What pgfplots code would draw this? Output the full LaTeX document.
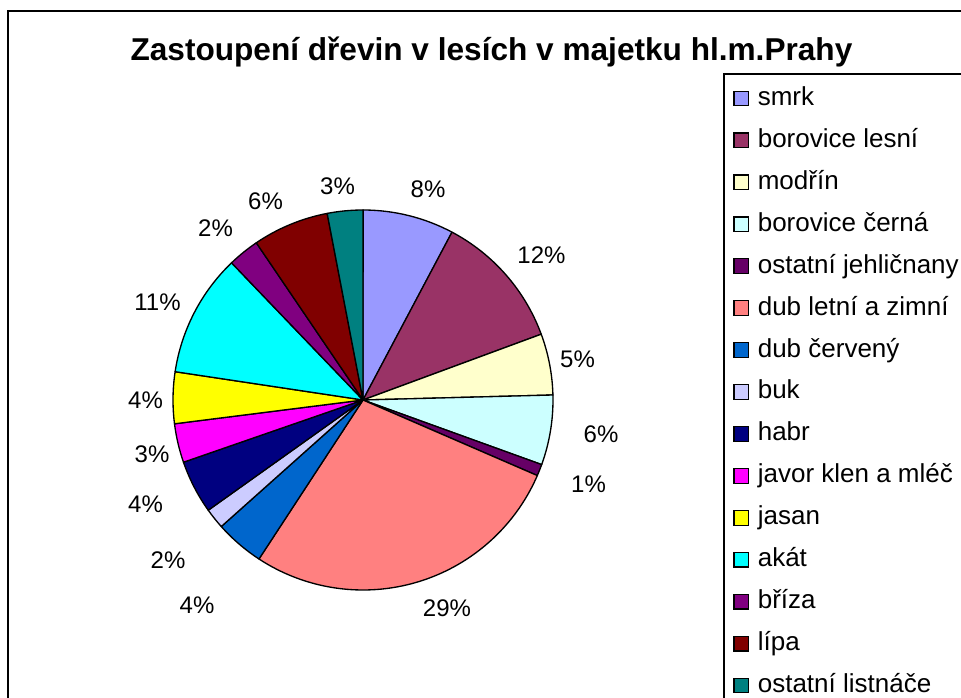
\documentclass[border=0pt]{standalone}
\usepackage{fontspec}
\setmainfont{Liberation Sans}
\usepackage{pgfplots}
\usepackage{pgfplotstable}
\pgfplotsset{compat=1.18}

\definecolor{c0}{HTML}{9999FF}
\definecolor{c1}{HTML}{993366}
\definecolor{c2}{HTML}{FFFFCC}
\definecolor{c3}{HTML}{CCFFFF}
\definecolor{c4}{HTML}{660066}
\definecolor{c5}{HTML}{FF8080}
\definecolor{c6}{HTML}{0066CC}
\definecolor{c7}{HTML}{CCCCFF}
\definecolor{c8}{HTML}{000080}
\definecolor{c9}{HTML}{FF00FF}
\definecolor{c10}{HTML}{FFFF00}
\definecolor{c11}{HTML}{00FFFF}
\definecolor{c12}{HTML}{800080}
\definecolor{c13}{HTML}{800000}
\definecolor{c14}{HTML}{008080}

% share (%), label position (px from left, px from bottom), label value
\pgfplotstableread{
value  lx     ly     lab
7.76   428    508    8
11.61  541.5  442    12
5.21   577.5  338    5
5.94   601    263    6
0.99   588.5  213    1
27.71  447    89     29
4.18   197    92     4
1.75   168    137    2
4.54   145.5  193    4
3.31   152    243    3
4.38   145.5  297    4
10.46  157.5  395    11
2.67   215.5  469    2
6.47   265.5  496    6
3.03   337.5  511    3
}\piedata

\pgfplotsset{
  sq/.style={legend image code/.code={\draw[##1, line width=0.9pt] (0pt,-5.5pt) rectangle (11pt,5.5pt);}},
}

\newcommand\pieacc{0}
\pgfplotsforeachungrouped \pieidx in {0,...,14}{%
  \pgfplotstablegetelem{\pieidx}{value}\of\piedata
  \let\pieval\pgfplotsretval
  \pgfmathsetmacro\piesa{90-3.6*\pieacc}%
  \pgfmathsetmacro\pieacc{\pieacc+\pieval}%
  \pgfmathsetmacro\pieea{90-3.6*\pieacc}%
  \pgfmathsetmacro\piesx{363+190*cos(\piesa)}%
  \pgfmathsetmacro\piesy{297+190*sin(\piesa)}%
  \expandafter\xdef\csname pieS\pieidx\endcsname{\piesa}%
  \expandafter\xdef\csname pieE\pieidx\endcsname{\pieea}%
  \expandafter\xdef\csname pieSX\pieidx\endcsname{\piesx}%
  \expandafter\xdef\csname pieSY\pieidx\endcsname{\piesy}%
  \pgfplotstablegetelem{\pieidx}{lx}\of\piedata
  \expandafter\xdef\csname pieX\pieidx\endcsname{\pgfplotsretval}%
  \pgfplotstablegetelem{\pieidx}{ly}\of\piedata
  \expandafter\xdef\csname pieY\pieidx\endcsname{\pgfplotsretval}%
  \pgfplotstablegetelem{\pieidx}{lab}\of\piedata
  \expandafter\xdef\csname pieL\pieidx\endcsname{\pgfplotsretval}%
}

\begin{document}
\begin{tikzpicture}
\useasboundingbox (0,0) rectangle (720.75pt,522.75pt);
\clip (0,0) rectangle (720.75pt,522.75pt);
\begin{axis}[
  at={(0,0)}, anchor=origin,
  scale only axis, width=720.75pt, height=522.75pt,
  xmin=0, xmax=961, ymin=0, ymax=697,
  hide axis, clip=false,
  title={Zastoupení dřevin v lesích v majetku hl.m.Prahy},
  title style={at={(0.5114,0.9024)}, anchor=base, font=\bfseries\fontsize{23.7}{28}\selectfont, inner sep=0pt},
  legend cell align=left,
  legend style={at={(0.7523,0.8953)}, anchor=north west, draw=black, line width=1.5pt,
    fill=white, font=\fontsize{19.5}{22}\selectfont,
    inner xsep=7pt, inner ysep=8.6pt, row sep=11.95pt,
    nodes={inner sep=0pt, text height=15pt, text depth=4.5pt},
    /tikz/every odd column/.append style={column sep=6.5pt}},
]
\draw[line width=1.8pt] (axis cs:8,686) rectangle (axis cs:1100,-100);

\pgfplotsinvokeforeach{0,...,14}{
  \filldraw[fill=c#1, draw=black, line width=1pt, line join=round]
    (axis cs:363,297) -- (axis cs:\csname pieSX#1\endcsname,\csname pieSY#1\endcsname)
    arc[start angle=\csname pieS#1\endcsname, end angle=\csname pieE#1\endcsname, radius=142.5pt] -- cycle;
  \node[font=\fontsize{18}{21}\selectfont, inner sep=0pt] at (axis cs:\csname pieX#1\endcsname,\csname pieY#1\endcsname) {\csname pieL#1\endcsname\%};
}

\addlegendimage{sq, fill=c0, draw=black}\addlegendentry{smrk}
\addlegendimage{sq, fill=c1, draw=black}\addlegendentry{borovice lesní}
\addlegendimage{sq, fill=c2, draw=black}\addlegendentry{modřín}
\addlegendimage{sq, fill=c3, draw=black}\addlegendentry{borovice černá}
\addlegendimage{sq, fill=c4, draw=black}\addlegendentry{ostatní jehličnany}
\addlegendimage{sq, fill=c5, draw=black}\addlegendentry{dub letní a zimní}
\addlegendimage{sq, fill=c6, draw=black}\addlegendentry{dub červený}
\addlegendimage{sq, fill=c7, draw=black}\addlegendentry{buk}
\addlegendimage{sq, fill=c8, draw=black}\addlegendentry{habr}
\addlegendimage{sq, fill=c9, draw=black}\addlegendentry{javor klen a mléč}
\addlegendimage{sq, fill=c10, draw=black}\addlegendentry{jasan}
\addlegendimage{sq, fill=c11, draw=black}\addlegendentry{akát}
\addlegendimage{sq, fill=c12, draw=black}\addlegendentry{bříza}
\addlegendimage{sq, fill=c13, draw=black}\addlegendentry{lípa}
\addlegendimage{sq, fill=c14, draw=black}\addlegendentry{ostatní listnáče}
\end{axis}
\end{tikzpicture}
\end{document}
